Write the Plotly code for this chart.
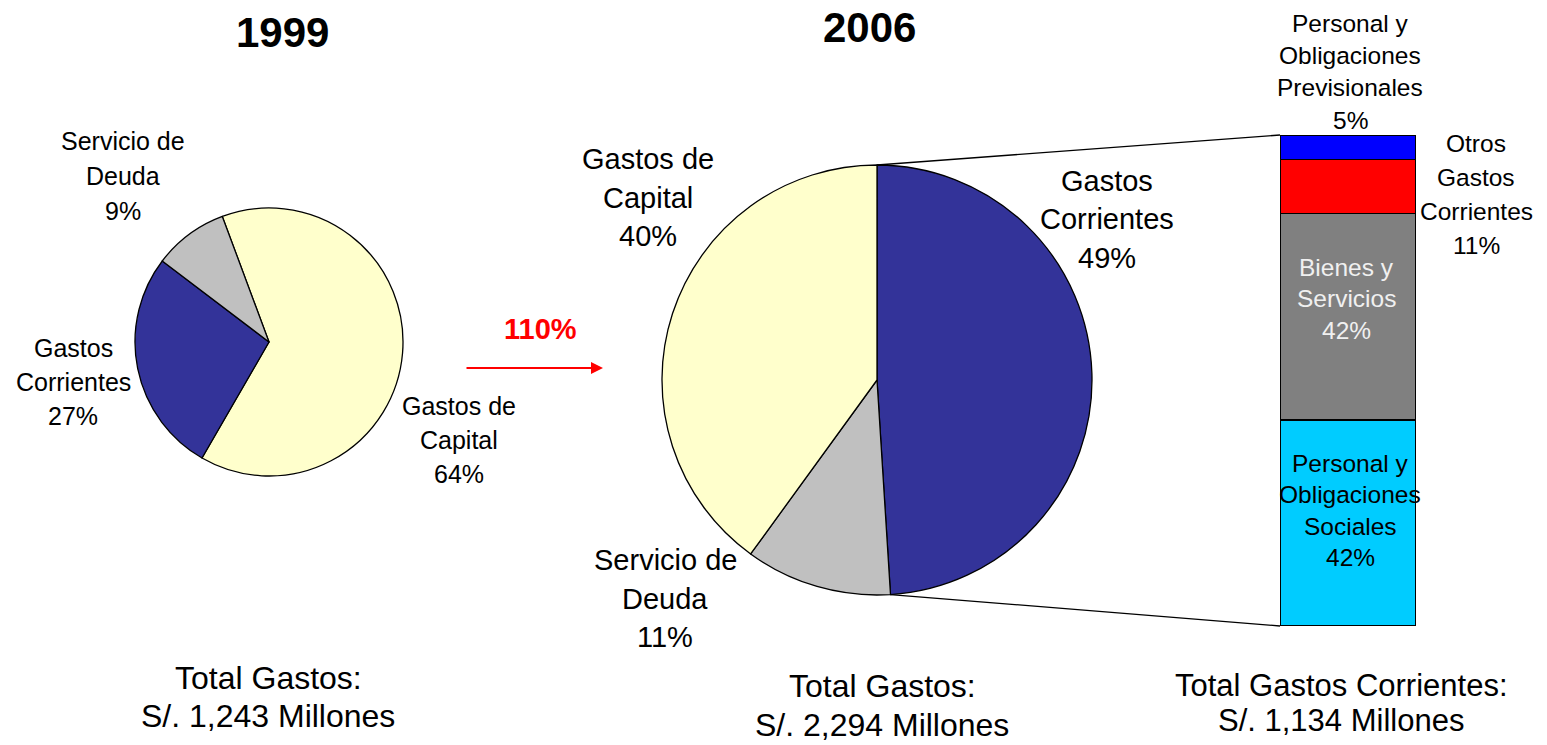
import math
import plotly.graph_objects as go

W, H = 1547, 745

# ---------------- data ----------------
pie1999_labels = ["Gastos de Capital", "Gastos Corrientes", "Servicio de Deuda"]
pie1999_values = [64, 27, 9]
pie1999_colors = ["#FFFFCC", "#333399", "#C0C0C0"]

pie2006_labels = ["Gastos Corrientes", "Servicio de Deuda", "Gastos de Capital"]
pie2006_values = [49, 11, 40]
pie2006_colors = ["#333399", "#C0C0C0", "#FFFFCC"]

bar_labels = ["Personal y Obligaciones Sociales", "Bienes y Servicios",
              "Otros Gastos Corrientes", "Personal y Obligaciones Previsionales"]
bar_values = [42, 42, 11, 5]
bar_colors = ["#00CCFF", "#808080", "#FF0000", "#0000FF"]

titles = ["1999", "2006"]
growth_label = "110%"
totals_1999 = ["Total Gastos:", "S/. 1,243 Millones"]
totals_2006 = ["Total Gastos:", "S/. 2,294 Millones"]
totals_corr = ["Total Gastos Corrientes:", "S/. 1,134 Millones"]

FONT = "Liberation Sans, Arial, sans-serif"


def px(x):
    return x / W


def py(y):
    return 1 - y / H


fig = go.Figure()

# pie 1999: center (269,342) r 134
c1, r1 = (269, 342), 134
fig.add_trace(go.Pie(
    labels=pie1999_labels, values=pie1999_values, sort=False, direction="clockwise",
    rotation=-20.4, textinfo="none", hoverinfo="label+percent",
    marker=dict(colors=pie1999_colors, line=dict(color="black", width=1.3)),
    domain=dict(x=[px(c1[0] - r1), px(c1[0] + r1)], y=[py(c1[1] + r1), py(c1[1] - r1)]),
    showlegend=False,
))

# pie 2006: center (877,380) r 215
c2, r2 = (877, 380), 215
fig.add_trace(go.Pie(
    labels=pie2006_labels, values=pie2006_values, sort=False, direction="clockwise",
    rotation=0, textinfo="none", hoverinfo="label+percent",
    marker=dict(colors=pie2006_colors, line=dict(color="black", width=1.3)),
    domain=dict(x=[px(c2[0] - r2), px(c2[0] + r2)], y=[py(c2[1] + r2), py(c2[1] - r2)]),
    showlegend=False,
))

# stacked bar
bx0, bx1, by0, by1 = 1280, 1416, 135, 626
for lab, val, col in zip(bar_labels, bar_values, bar_colors):
    fig.add_trace(go.Bar(
        x=[0], y=[val], name=lab, width=1, marker=dict(color=col, line=dict(color="black", width=1.5)),
        showlegend=False, hoverinfo="name+y",
    ))

fig.update_layout(
    width=W, height=H, margin=dict(l=0, r=0, t=0, b=0),
    paper_bgcolor="white", plot_bgcolor="rgba(0,0,0,0)",
    barmode="stack",
    xaxis=dict(domain=[px(bx0), px(bx1)], range=[-0.5, 0.5], visible=False, fixedrange=True),
    yaxis=dict(domain=[py(by1), py(by0)], range=[0, 100], visible=False, fixedrange=True),
    font=dict(family=FONT, color="black"),
)

# connector lines from pie 2 edge to bar
total2 = sum(pie2006_values)
ang_end = 2 * math.pi * pie2006_values[0] / total2
top_pt = (c2[0], c2[1] - r2)
bot_pt = (c2[0] + r2 * math.sin(ang_end), c2[1] - r2 * math.cos(ang_end))
fig.add_shape(type="line", xref="paper", yref="paper",
              x0=px(top_pt[0]), y0=py(top_pt[1]), x1=px(bx0), y1=py(by0),
              line=dict(color="black", width=1.3))
fig.add_shape(type="line", xref="paper", yref="paper",
              x0=px(bot_pt[0]), y0=py(bot_pt[1]), x1=px(bx0), y1=py(by1),
              line=dict(color="black", width=1.3))


def ann(lines, x, y_first, pitch, size, color="black", bold=False):
    for i, t in enumerate(lines):
        if bold:
            t = "<b>" + t + "</b>"
        fig.add_annotation(text=t, x=px(x), y=py(y_first + i * pitch + 2), xref="paper", yref="paper",
                           showarrow=False, xanchor="center", yanchor="middle",
                           font=dict(size=size, color=color, family=FONT), align="center")


# titles
ann([titles[0]], 282, 30, 0, 42, bold=True)
ann([titles[1]], 869, 25, 0, 42, bold=True)

# pie 1999 labels
ann(["Servicio de", "Deuda", f"{pie1999_values[2]}%"], 123, 139, 35, 25)
ann(["Gastos", "Corrientes", f"{pie1999_values[1]}%"], 73, 346, 34, 25)
ann(["Gastos de", "Capital", f"{pie1999_values[0]}%"], 459, 404, 34, 25)

# pie 2006 labels
ann(["Gastos de", "Capital", f"{pie2006_values[2]}%"], 648, 157, 38.5, 29)
ann(["Gastos", "Corrientes", f"{pie2006_values[0]}%"], 1107, 179, 38.5, 29)
ann(["Servicio de", "Deuda", f"{pie2006_values[1]}%"], 665, 558, 38.5, 29)

# bar labels
ann(["Personal y", "Obligaciones", "Previsionales", f"{bar_values[3]}%"], 1350, 21, 32.5, 24.5)
ann(["Otros", "Gastos", "Corrientes", f"{bar_values[2]}%"], 1476, 142, 33.7, 24.5)
ann(["Bienes y", "Servicios", f"{bar_values[1]}%"], 1346, 265, 31.5, 24.5, color="#F0F0F0")
ann(["Personal y", "Obligaciones", "Sociales", f"{bar_values[0]}%"], 1350, 461, 31.5, 24.5)

# totals
ann(totals_1999, 268, 676, 38, 32)
ann(totals_2006, 882, 684, 39, 32)
ann(totals_corr, 1341, 683, 35, 31)

# growth arrow
ann([growth_label], 540, 327, 0, 29, color="#FF0000", bold=True)
fig.add_annotation(x=px(603), y=py(368), xref="paper", yref="paper",
                   ax=465 - 603, ay=0, showarrow=True, arrowhead=2, arrowsize=1.2,
                   arrowwidth=2, arrowcolor="#FF0000", text="")

fig.write_html("out.html", config={"displayModeBar": False},
               post_script="document.body.style.margin='0px';document.body.style.overflow='hidden';")
